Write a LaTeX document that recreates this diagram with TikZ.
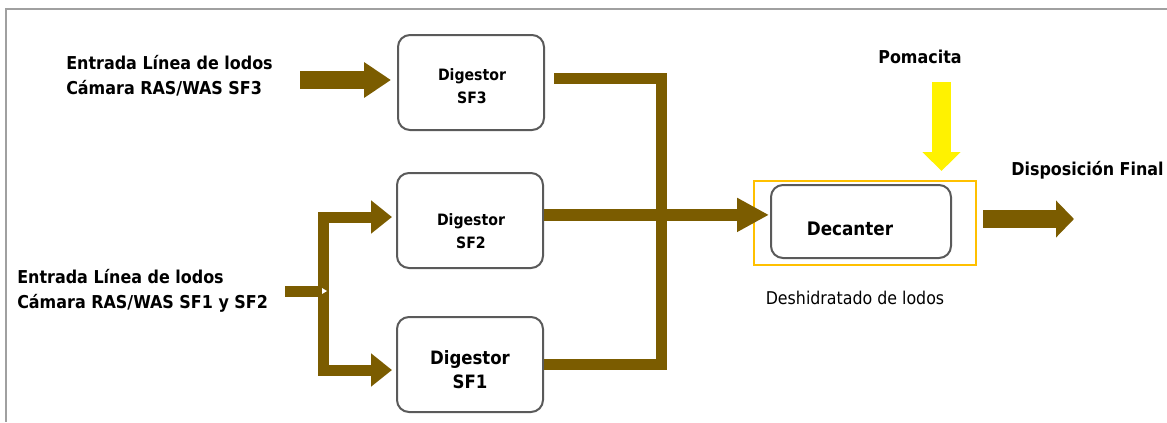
\documentclass[tikz,border=0pt]{standalone}
\usepackage{fontspec}
\setmainfont{DejaVu Sans Condensed}
\usetikzlibrary{arrows.meta,calc}
\definecolor{pipebrown}{RGB}{123,92,0}
\definecolor{boxgray}{RGB}{90,90,90}
\definecolor{frameyel}{RGB}{255,192,0}
\definecolor{framegray}{RGB}{160,160,160}
\tikzset{
  digbox/.style={draw=boxgray, line width=1.5pt, rounded corners=9pt, minimum width=109.5pt, minimum height=71.25pt, inner sep=0pt},
  pipe/.style={draw=pipebrown, line width=8.25pt},
  bigtxt/.style={font=\bfseries\fontsize{13.3}{18.75}\selectfont, inner sep=0pt, align=left},
  smalltxt/.style={font=\bfseries\fontsize{11.75}{17.25}\selectfont, inner sep=0pt, align=center},
}
\begin{document}
\begin{tikzpicture}[x=0.75pt,y=-0.75pt]
\useasboundingbox (0,0) rectangle (1167,422);
% frame
\draw[framegray, line width=1.5pt] (1167,9) -- (6,9) -- (6,422);

% digester boxes
\node[digbox] (sf3) at (471,82.5) {};
\node[digbox] (sf2) at (470,220.5) {};
\node[digbox] (sf1) at (470,364.5) {};
\node[smalltxt] (t3) at (472,86.5) {Digestor\\SF3};
\node[smalltxt] (t2) at (471,231) {Digestor\\SF2};
\node[font=\bfseries\fontsize{13.8}{18}\selectfont, inner sep=0pt, align=center] (t1) at (470,370) {Digestor\\SF1};

% decanter
\node[draw=frameyel, line width=1.5pt, minimum width=166.5pt, minimum height=63pt, inner sep=0pt] (decbox) at (865,223) {};
\node[draw=boxgray, line width=1.5pt, rounded corners=9pt, minimum width=135pt, minimum height=54.75pt, inner sep=0pt] (dec) at (861,221.5) {};
\node[font=\bfseries\fontsize{14}{16}\selectfont, inner sep=0pt] (dectxt) at (850,229) {Decanter};
\node[font=\fontsize{13.2}{16}\selectfont, inner sep=0pt] (desh) at (855,298) {Deshidratado de lodos};

% texts
\node[bigtxt, anchor=west] (in3) at (66,75.5) {Entrada Línea de lodos\\Cámara RAS/WAS SF3};
\node[bigtxt, anchor=west] (in12) at (17,291) {Entrada Línea de lodos\\Cámara RAS/WAS SF1 y SF2};
\node[bigtxt] (poma) at (920,57) {Pomacita};
\node[bigtxt] (disp) at (1087.5,170) {Disposición Final};

% input SF3
\coordinate (s3) at (300,80);
\draw[draw=pipebrown, line width=13.5pt, shorten >=4.5pt,
  -{Triangle[length=20.25pt,width=25.5pt]}, pipebrown] (s3) -- (s3 -| sf3.west);

% input SF1/SF2
\coordinate (inb) at (285,291);
\coordinate (jb) at (323,291);
\coordinate (jt) at (323,217);
\coordinate (jl) at (323,370);
\draw[pipe] (inb) -- (jb);
\draw[pipe, pipebrown, shorten >=3pt, -{Triangle[length=15.75pt,width=24pt]}] (jb) -- (jt) -- (jt -| sf2.west);
\draw[pipe, pipebrown, shorten >=3pt, -{Triangle[length=15.75pt,width=24pt]}] (jb) -- (jl) -- (jl -| sf1.west);
\fill[white] (322,288) -- (327,291) -- (322,294) -- cycle;

% outputs of digesters
\coordinate (jx) at (661,0);
\coordinate (o3) at ([shift={(9,-4.5)}]sf3.east);
\draw[pipe] (o3) -| (jx |- sf1.east) -- (sf1.east);
\coordinate (o2) at ([yshift=4.2pt]sf2.east);
\draw[draw=pipebrown, line width=9pt, shorten >=0.75pt, pipebrown,
  -{Triangle[length=24pt,width=24pt]}] (o2) -- (o2 -| dec.west);

% pomacita arrow
\coordinate (pa) at (941.5,82);
\draw[draw=yellow, line width=14.25pt, yellow, shorten >=6.75pt,
  -{Triangle[length=14.25pt,width=27.75pt]}] (pa) -- (pa |- decbox.north);

% final output
\coordinate (do) at ([shift={(6,-4)}]decbox.east);
\coordinate (dend) at (1074,219);
\draw[draw=pipebrown, line width=13.5pt, pipebrown,
  -{Triangle[length=13.5pt,width=27pt]}] (do) -- (dend);
\end{tikzpicture}
\end{document}
